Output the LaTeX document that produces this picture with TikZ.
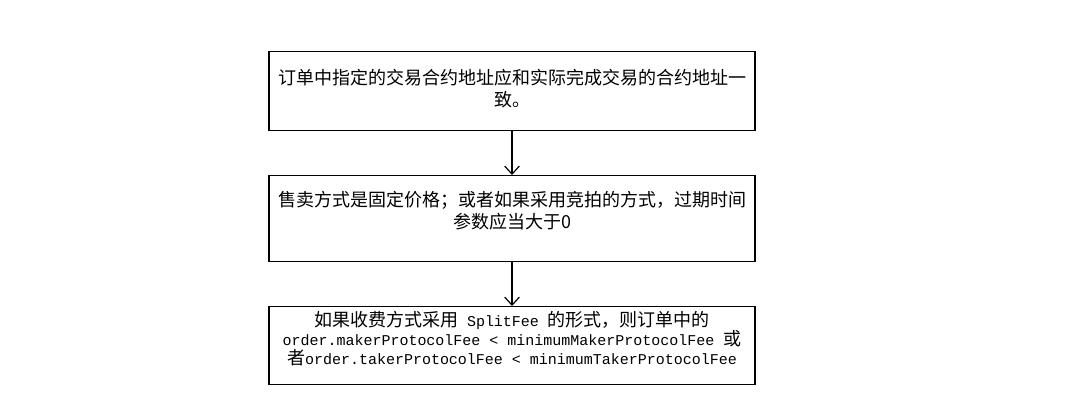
\documentclass[tikz,border=0pt]{standalone}
\usepackage{fontspec}
\setmainfont{Noto Sans CJK SC}
\setmonofont{Liberation Mono}[Scale=0.833]
\usetikzlibrary{arrows.meta}
\begin{document}
\begin{tikzpicture}[x=0.75pt,y=-0.75pt,
  boxstyle/.style={draw=black,line width=1pt,minimum width=486*0.75pt,inner sep=0pt,anchor=north},
  txt/.style={align=center,inner sep=0pt,font=\fontsize{13.5}{16.5}\selectfont},
  txtc/.style={align=center,inner sep=0pt,font=\fontsize{13.5}{14.25}\selectfont},
  arr/.style={line width=0.9pt,-{Straight Barb[length=6pt,width=11pt,line width=0.9pt]}}]
\useasboundingbox (0,0) rectangle (1086,418);
\node[boxstyle,minimum height=79*0.75pt] (b1) at (512,51) {};
\node[boxstyle,minimum height=86*0.75pt] (b2) at (512,175) {};
\node[boxstyle,minimum height=78*0.75pt] (b3) at (512,306) {};
\node[txt] (t1) at (512,88.5) {订单中指定的交易合约地址应和实际完成交易的合约地址一\\致。};
\node[txt] (t2) at (512,211) {售卖方式是固定价格；或者如果采用竞拍的方式，过期时间\\参数应当大于0};
\node[txtc] (t3) at (512,338.5) {如果收费方式采用\texttt{ SplitFee }的形式，则订单中的\\\texttt{order.makerProtocolFee < minimumMakerProtocolFee }或\\者\texttt{order.takerProtocolFee < minimumTakerProtocolFee}};
\draw[arr] (b1.south) -- (b2.north);
\draw[arr] (b2.south) -- (b3.north);
\end{tikzpicture}
\end{document}
